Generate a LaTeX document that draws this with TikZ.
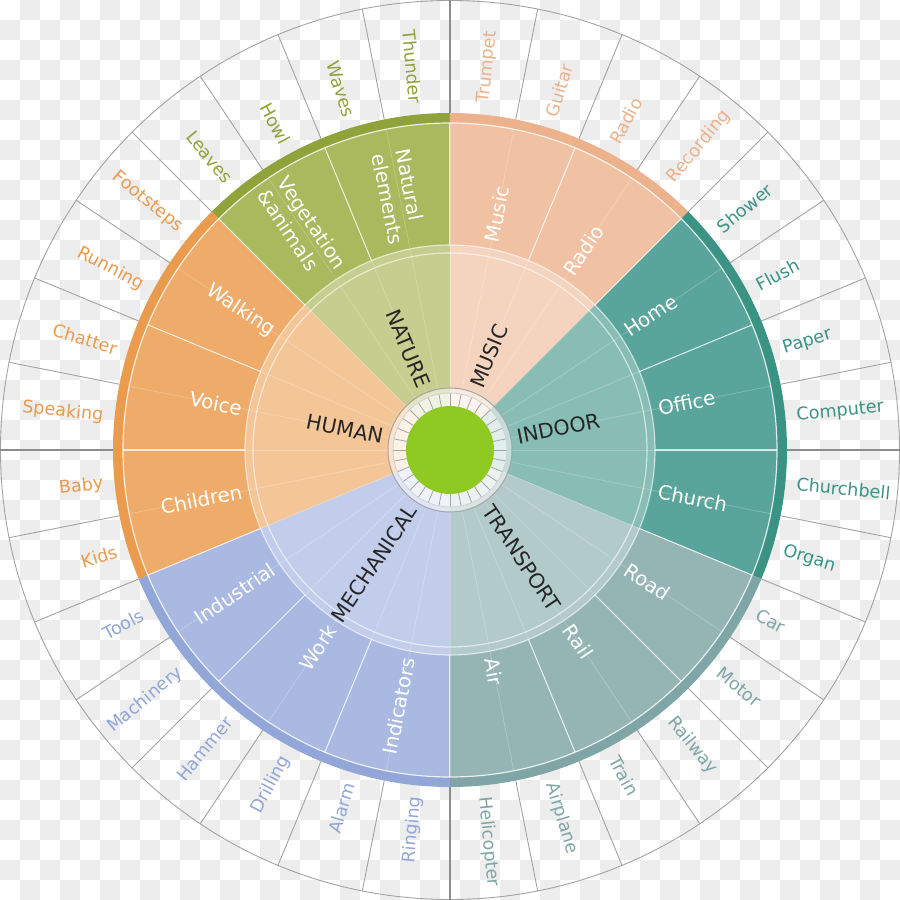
\documentclass[tikz,border=0pt]{standalone}
\usepackage{fontspec}
\setmainfont{DejaVu Sans}
\usetikzlibrary{positioning}

\definecolor{natureR}{HTML}{8FA33A}
\definecolor{natureM}{HTML}{AAB85E}
\definecolor{natureI}{HTML}{C5CE8E}
\definecolor{musicR}{HTML}{ECB28C}
\definecolor{musicM}{HTML}{F0C2A3}
\definecolor{musicI}{HTML}{F4D4BF}
\definecolor{indoorR}{HTML}{3B9384}
\definecolor{indoorM}{HTML}{5AA59B}
\definecolor{indoorI}{HTML}{88BDB5}
\definecolor{transR}{HTML}{7FA5A6}
\definecolor{transM}{HTML}{95B5B5}
\definecolor{transI}{HTML}{B3CACA}
\definecolor{mechR}{HTML}{93A6D8}
\definecolor{mechM}{HTML}{A9B9E1}
\definecolor{mechI}{HTML}{C2CDEB}
\definecolor{humanR}{HTML}{EB9B4D}
\definecolor{humanM}{HTML}{EEAB69}
\definecolor{humanI}{HTML}{F4C697}
\definecolor{hubgreen}{HTML}{8FCA22}
\definecolor{bggray}{HTML}{EDEDED}
\definecolor{spokegray}{HTML}{A3A3A3}

% one piece of a ring: colour, start angle, end angle, inner radius, outer radius
\newcommand{\ringpart}[5]{\fill[#1] (#2:#4) arc[start angle=#2, end angle=#3, radius=#4] -- (#3:#5) arc[start angle=#3, end angle=#2, radius=#5] -- cycle;}

\begin{document}
\begin{tikzpicture}[x=0.5pt, y=0.5pt,
  leaflabel/.style={inner sep=0pt, font=\fontsize{8.8}{10.5}\selectfont},
  midlabel/.style={inner sep=0pt, text=white, align=left, font=\fontsize{9.9}{12}\selectfont},
  catlabel/.style={inner sep=0pt, text=black!85, font=\fontsize{10.3}{12}\selectfont},
  spoke/.style={draw=spokegray, line width=0.45pt},
  axisline/.style={draw=gray!90, line width=0.8pt}]
\useasboundingbox (-450,-450) rectangle (450,450);

% checkered background
\fill[white] (-450,-450) rectangle (450,450);
\foreach \j in {0,...,44}
  \foreach \k in {0,...,22}{
    \pgfmathtruncatemacro\ii{2*\k+mod(\j+1,2)}
    \ifnum\ii<45 \fill[bggray] (-450+20*\ii,430-20*\j) rectangle ++(20,20);\fi
  }

% outer cells
\draw[spoke] (0,0) circle[radius=449.5];
\foreach \k [evaluate=\k as \a using \k*11.25] in {0,...,31}
  \draw[spoke] (\a:337) -- (\a:450);
\foreach \a in {0,90,180,270}
  \draw[axisline] (\a:337) -- (\a:450);

% rings
\foreach \grp/\a/\b in {nature/90/135, music/45/90, indoor/-22.5/45, trans/-90/-22.5, mech/-157.5/-90, human/135/202.5}{
  \ringpart{fill=\grp I!25}{\a}{\b}{44}{62}
  \ringpart{fill=\grp I!50}{\a}{\b}{57}{62}
  \ringpart{fill=\grp I}{\a}{\b}{62}{205}
  \ringpart{fill=\grp M}{\a}{\b}{205}{327}
  \ringpart{fill=\grp R}{\a}{\b}{327}{337}
}

% thin white lines
\foreach \k [evaluate=\k as \a using \k*11.25] in {0,...,31}
  \draw[white, opacity=0.22, line width=0.4pt] (\a:62) -- (\a:327);
\foreach \k [evaluate=\k as \a using \k*22.5] in {0,...,15}
  \draw[white, opacity=0.75, line width=0.5pt] (\a:205) -- (\a:327);
\draw[white, opacity=0.6, line width=0.6pt] (0,0) circle[radius=197] (0,0) circle[radius=205];
\draw[white, opacity=0.8, line width=0.6pt] (0,0) circle[radius=327];

% hub
\foreach \k [evaluate=\k as \a using \k*11.25] in {0,...,31}
  \draw[gray!70, line width=0.4pt] (\a:44) -- (\a:57);
\draw[gray!35, line width=0.4pt] (0,0) circle[radius=57];
\draw[gray!70, line width=0.5pt] (0,0) circle[radius=62];
\fill[hubgreen] (0,0) circle[radius=44];

% inner labels
\node[catlabel, anchor=east, rotate=-67.5] (nature) at (112.5:68) {NATURE};
\node[catlabel, anchor=west, rotate=67.5] (music) at (67.5:68) {MUSIC};
\node[catlabel, anchor=west, rotate=11.25] (indoor) at (11.25:68) {INDOOR};
\node[catlabel, anchor=west, rotate=-56.25] (transport) at (-56.25:68) {TRANSPORT};
\node[catlabel, anchor=east, rotate=56.25] (mechanical) at (236.25:68) {MECHANICAL};
\node[catlabel, anchor=east, rotate=-11.25] (human) at (168.75:68) {HUMAN};

% middle labels
\node[midlabel, anchor=east, rotate=-78.75] (natural) at (101.25:212) {Natural\\elements};
\node[midlabel, anchor=east, rotate=-56.25] (vegetation) at (123.75:212) {Vegetation\\\&animals};
\node[midlabel, anchor=west, rotate=78.75] (musicmid) at (78.75:212) {Music};
\node[midlabel, anchor=west, rotate=56.25] (radiomid) at (56.25:212) {Radio};
\node[midlabel, anchor=west, rotate=33.75] (home) at (33.75:212) {Home};
\node[midlabel, anchor=west, rotate=11.25] (office) at (11.25:212) {Office};
\node[midlabel, anchor=west, rotate=-11.25] (church) at (-11.25:212) {Church};
\node[midlabel, anchor=west, rotate=-33.75] (road) at (-33.75:212) {Road};
\node[midlabel, anchor=west, rotate=-56.25] (rail) at (-56.25:212) {Rail};
\node[midlabel, anchor=west, rotate=-78.75] (air) at (-78.75:212) {Air};
\node[midlabel, anchor=east, rotate=78.75] (indicators) at (258.75:212) {Indicators};
\node[midlabel, anchor=east, rotate=56.25] (work) at (236.25:212) {Work};
\node[midlabel, anchor=east, rotate=33.75] (industrial) at (213.75:212) {Industrial};
\node[midlabel, anchor=east, rotate=11.25] (children) at (191.25:212) {Children};
\node[midlabel, anchor=east, rotate=-11.25] (voice) at (168.75:212) {Voice};
\node[midlabel, anchor=east, rotate=-33.75] (walking) at (146.25:212) {Walking};

% outer labels
\node[leaflabel, text=natureR, anchor=east, rotate=-84.375] (thunder) at (95.625:348) {Thunder};
\node[leaflabel, text=natureR, anchor=east, rotate=-73.125] (waves) at (106.875:348) {Waves};
\node[leaflabel, text=natureR, anchor=east, rotate=-61.875] (howl) at (118.125:348) {Howl};
\node[leaflabel, text=natureR, anchor=east, rotate=-50.625] (leaves) at (129.375:348) {Leaves};
\node[leaflabel, text=humanR, anchor=east, rotate=-39.375] (footsteps) at (140.625:348) {Footsteps};
\node[leaflabel, text=humanR, anchor=east, rotate=-28.125] (running) at (151.875:348) {Running};
\node[leaflabel, text=humanR, anchor=east, rotate=-16.875] (chatter) at (163.125:348) {Chatter};
\node[leaflabel, text=humanR, anchor=east, rotate=-5.625] (speaking) at (174.375:348) {Speaking};
\node[leaflabel, text=humanR, anchor=east, rotate=5.625] (baby) at (185.625:348) {Baby};
\node[leaflabel, text=humanR, anchor=east, rotate=16.875] (kids) at (196.875:348) {Kids};
\node[leaflabel, text=mechR, anchor=east, rotate=28.125] (tools) at (208.125:348) {Tools};
\node[leaflabel, text=mechR, anchor=east, rotate=39.375] (machinery) at (219.375:348) {Machinery};
\node[leaflabel, text=mechR, anchor=east, rotate=50.625] (hammer) at (230.625:348) {Hammer};
\node[leaflabel, text=mechR, anchor=east, rotate=61.875] (drilling) at (241.875:348) {Drilling};
\node[leaflabel, text=mechR, anchor=east, rotate=73.125] (alarm) at (253.125:348) {Alarm};
\node[leaflabel, text=mechR, anchor=east, rotate=84.375] (ringing) at (264.375:348) {Ringing};
\node[leaflabel, text=transR, anchor=west, rotate=-84.375] (helicopter) at (-84.375:348) {Helicopter};
\node[leaflabel, text=transR, anchor=west, rotate=-73.125] (airplane) at (-73.125:348) {Airplane};
\node[leaflabel, text=transR, anchor=west, rotate=-61.875] (train) at (-61.875:348) {Train};
\node[leaflabel, text=transR, anchor=west, rotate=-50.625] (railway) at (-50.625:348) {Railway};
\node[leaflabel, text=transR, anchor=west, rotate=-39.375] (motor) at (-39.375:348) {Motor};
\node[leaflabel, text=transR, anchor=west, rotate=-28.125] (car) at (-28.125:348) {Car};
\node[leaflabel, text=indoorR, anchor=west, rotate=-16.875] (organ) at (-16.875:348) {Organ};
\node[leaflabel, text=indoorR, anchor=west, rotate=-5.625] (churchbell) at (-5.625:348) {Churchbell};
\node[leaflabel, text=indoorR, anchor=west, rotate=5.625] (computer) at (5.625:348) {Computer};
\node[leaflabel, text=indoorR, anchor=west, rotate=16.875] (paper) at (16.875:348) {Paper};
\node[leaflabel, text=indoorR, anchor=west, rotate=28.125] (flush) at (28.125:348) {Flush};
\node[leaflabel, text=indoorR, anchor=west, rotate=39.375] (shower) at (39.375:348) {Shower};
\node[leaflabel, text=musicR, anchor=west, rotate=50.625] (recording) at (50.625:348) {Recording};
\node[leaflabel, text=musicR, anchor=west, rotate=61.875] (radioleaf) at (61.875:348) {Radio};
\node[leaflabel, text=musicR, anchor=west, rotate=73.125] (guitar) at (73.125:348) {Guitar};
\node[leaflabel, text=musicR, anchor=west, rotate=84.375] (trumpet) at (84.375:348) {Trumpet};
\end{tikzpicture}
\end{document}
